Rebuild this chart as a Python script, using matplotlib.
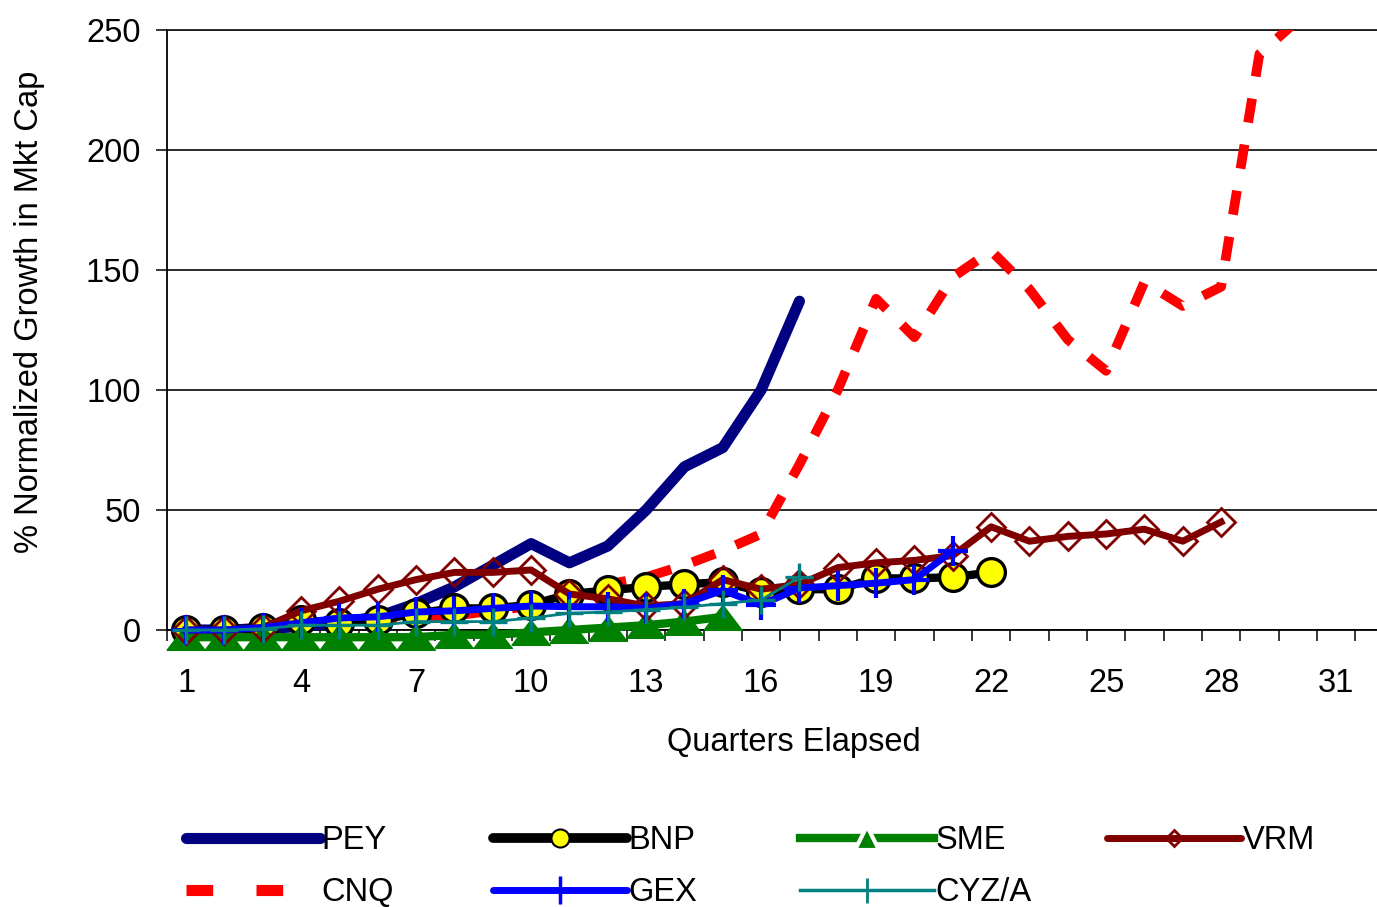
import matplotlib.pyplot as plt
from matplotlib.lines import Line2D
import numpy as np

plt.rcParams['font.family'] = ['Liberation Sans', 'DejaVu Sans']

# Values (% normalized growth per quarter)
pey = [0, 0, 0.5, 1.5, 3, 5.5, 11, 18, 27, 36, 28, 35, 50, 68, 76, 100, 137]
bnp = [0, 0, 1, 4, 3, 4, 7, 9, 9, 10.5, 15, 16.5, 18, 19, 20, 16, 17, 17,
       21.5, 21.5, 22, 24]
sme = [-3, -3, -3, -3, -3, -3, -3, -2, -2, -1, 0, 1, 2, 3.5, 5.5]
vrm = [0, 0, 1, 8, 12, 17, 21, 24, 24, 25, 15, 13, 10, 11, 21, 17, 19, 26,
       28, 29, 31, 43, 37, 39, 40, 42, 37, 45]
cnq = [0, 0, 1, 2, 3, 4, 5, 6, 8, 10, 14, 19, 22, 27, 33, 40, 69, 100, 138,
       122, 147, 158, 142, 121, 108, 145, 135, 143, 240, 254]
gex = [0, 0, 1, 3, 5, 5.5, 7.5, 8, 9, 10, 9.7, 9.7, 9, 11, 16.5, 10.5, 17.5,
       18.5, 19.5, 21, 33]
cyz = [0, 0, 0.5, 2, 2, 2, 3.5, 3.5, 3.5, 5, 7, 7.5, 8.5, 9.5, 11, 12.5, 22]

xtick_labels = [1, 4, 7, 10, 13, 16, 19, 22, 25, 28, 31]
ytick_vals = [0, 50, 100, 150, 200, 250]

FS = 23.5


def q(vals):
    return np.arange(1, len(vals) + 1)


W, H = 1377, 907
fig = plt.figure(figsize=(W / 100, H / 100), dpi=100)
ax = fig.add_axes([167 / W, (H - 630) / H, (W - 167) / W, 600 / H])

# wide flat triangle like the Excel marker
tri = [(0, 0.66), (-1, -0.66), (1, -0.66)]

ax.plot(q(cnq), cnq, color='#ff0000', lw=7, dashes=(2.5, 2.3),
        dash_capstyle='butt', zorder=3)
ax.plot(q(pey), pey, color='#000080', lw=8, solid_capstyle='round',
        zorder=4, clip_on=False)
ax.plot(q(bnp), bnp, color='black', lw=6, marker='o', ms=20, mfc='#ffff00',
        mec='black', mew=2.4, zorder=5, clip_on=False)
ax.plot(q(sme), sme, color='#008000', lw=6, marker=tri, ms=28, mfc='#008000',
        mec='#008000', zorder=6, clip_on=False)
ax.plot(q(vrm), vrm, color='#800000', lw=5, marker='D', ms=14, mfc='none',
        mec='#800000', mew=2, zorder=7, clip_on=False)
ax.plot(q(gex), gex, color='#0000ff', lw=5, marker='+', ms=22, mew=3,
        zorder=8, clip_on=False)
ax.plot(q(cyz), cyz, color='#008080', lw=2, marker='+', ms=20, mew=2.4,
        zorder=9, clip_on=False)

ax.set_xlim(0.5, 0.5 + (W - 167) / 38.33)
ax.set_ylim(0, 250)

ax.set_yticks(ytick_vals)
ax.set_xticks(xtick_labels)
ax.set_xticks(np.arange(0.5, 32.5, 1), minor=True)
ax.tick_params(axis='x', which='major', length=0, pad=27, labelsize=FS)
ax.tick_params(axis='x', which='minor', length=8, width=1.1, direction='out')
ax.tick_params(axis='y', length=8, width=1.1, direction='out', pad=11,
               labelsize=FS)

ax.grid(axis='y', color='#1a1a1a', lw=1.3)
ax.set_axisbelow(True)
for s in ['left', 'bottom']:
    ax.spines[s].set_linewidth(1.3)
    ax.spines[s].set_zorder(1)
ax.spines['right'].set_visible(False)
ax.spines['top'].set_linewidth(1.3)
ax.spines['top'].set_color('#1a1a1a')

fig.text(30 / W, 1 - 312 / H, '% Normalized Growth in Mkt Cap', rotation=90,
         ha='center', va='center', fontsize=FS)
fig.text(794 / W, 1 - 743 / H, 'Quarters Elapsed', ha='center', va='center',
         fontsize=FS)

# legend proxies, one legend per column like the original layout
h_pey = Line2D([], [], color='#000080', lw=8, solid_capstyle='round')
h_cnq = Line2D([], [], color='#ff0000', lw=8, dashes=(2.4, 3.9),
               dash_capstyle='butt')
h_bnp = Line2D([], [], color='black', lw=7, solid_capstyle='round',
               marker='o', ms=13, mfc='#ffff00', mec='black', mew=1.5)
h_gex = Line2D([], [], color='#0000ff', lw=5, solid_capstyle='round',
               marker='|', ms=20, mew=2.5, mec='#0000ff')
h_sme = Line2D([], [], color='#008000', lw=6, marker='^', ms=17,
               mfc='#008000', mec='white', mew=3)
h_cyz = Line2D([], [], color='#008080', lw=2.5, marker='|', ms=18, mew=2)
h_vrm = Line2D([], [], color='#800000', lw=5, solid_capstyle='round',
               marker='D', ms=8, mfc='none', mec='#800000', mew=2)

cols = [([h_pey, h_cnq], ['PEY', 'CNQ'], 186),
        ([h_bnp, h_gex], ['BNP', 'GEX'], 493),
        ([h_sme, h_cyz], ['SME', 'CYZ/A'], 800),
        ([h_vrm], ['VRM'], 1107)]
for handles, labels, xpx in cols:
    fig.legend(handles, labels, loc='upper left',
               bbox_to_anchor=(xpx / W, 1 - 825 / H), frameon=False,
               fontsize=FS, handlelength=4.1, handletextpad=0.05,
               borderpad=0, borderaxespad=0, labelspacing=0.65)

fig.savefig('out.png', dpi=100)
